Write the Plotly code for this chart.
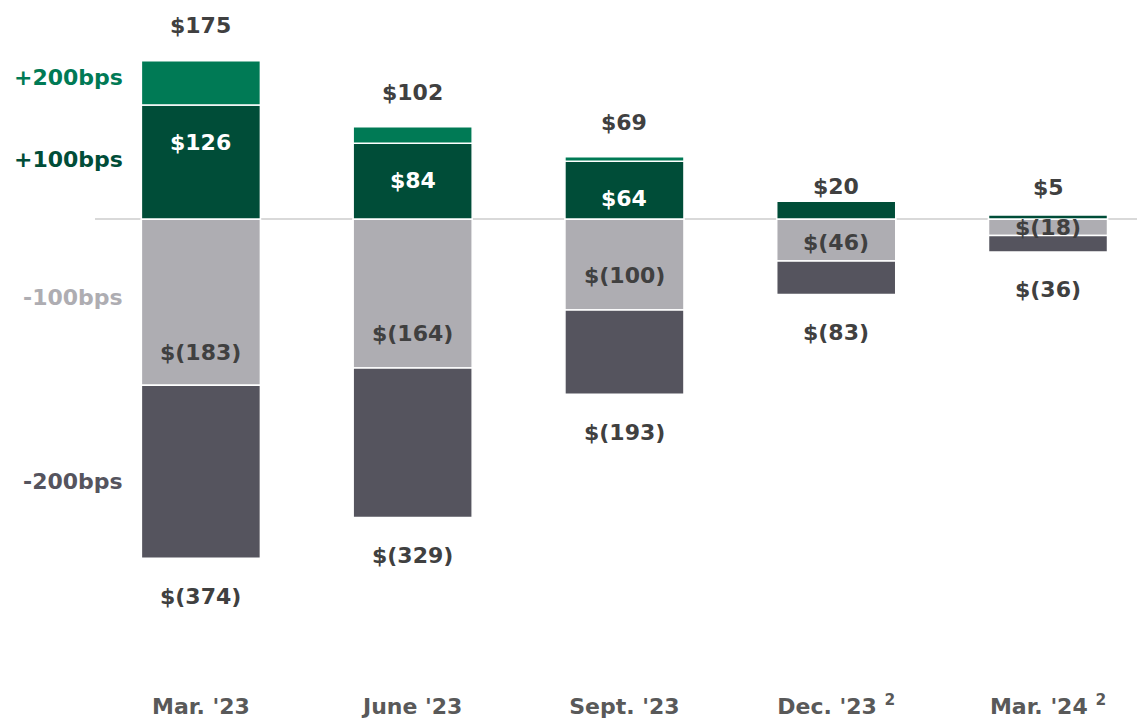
import plotly.graph_objects as go

categories = ["Mar. '23", "June '23", "Sept. '23", "Dec. '23", "Mar. '24"]
footnote = ["", "", "", "2", "2"]
up100 = [126, 84, 64, 20, 5]
up200_total = [175, 102, 69, 20, 5]
down100 = [-183, -164, -100, -46, -18]
down200_total = [-374, -329, -193, -83, -36]

up200_inc = [t - a for t, a in zip(up200_total, up100)]
down200_inc = [t - a for t, a in zip(down200_total, down100)]

C_UP200 = "#007A55"
C_UP100 = "#004D38"
C_DN100 = "#AEADB2"
C_DN200 = "#55545E"
TXT = "#404040"
CAT = "#595959"
FONT = "DejaVu Sans, Arial, sans-serif"

x = list(range(len(categories)))
W = 0.562

fig = go.Figure()
for name, vals, col in [
    ("+100bps", up100, C_UP100),
    ("+200bps", up200_inc, C_UP200),
    ("-100bps", down100, C_DN100),
    ("-200bps", down200_inc, C_DN200),
]:
    fig.add_trace(go.Bar(
        x=x, y=vals, name=name, width=W,
        marker=dict(color=col, line=dict(color="white", width=1.5)),
        hoverinfo="skip",
    ))

def money(v):
    return f"${v}" if v >= 0 else f"$({-v})"

# pixel offsets for labels (layout only)
top_shift = [35, 34, 34, 15, 27]
inner_show = [True, True, True, False, False]
dn100_shift = [33, 34, 34, 18, 8]

def f(col, size=22):
    return dict(color=col, size=size, family=FONT, weight="bold")

ann = []
for i in range(len(categories)):
    ann.append(dict(x=x[i], y=up200_total[i], text=money(up200_total[i]), showarrow=False,
                    yshift=top_shift[i], font=f(TXT)))
    if inner_show[i]:
        ann.append(dict(x=x[i], y=up100[i], text=money(up100[i]), showarrow=False,
                        yshift=-37, font=f("white")))
    ann.append(dict(x=x[i], y=down100[i], text=money(down100[i]), showarrow=False,
                    yshift=dn100_shift[i], font=f(TXT)))
    ann.append(dict(x=x[i], y=down200_total[i], text=money(down200_total[i]), showarrow=False,
                    yshift=-38, font=f(TXT)))

side_labels = [("+200bps", 156, C_UP200), ("+100bps", 66.5, C_UP100),
               ("-100bps", -86, C_DN100), ("-200bps", -289, C_DN200)]
for txt, yv, col in side_labels:
    ann.append(dict(xref="paper", x=0.0286, xanchor="right", y=yv, text=txt, showarrow=False,
                    font=f(col)))

ticktext = [c + (f" <sup>{n}</sup>" if n else "") for c, n in zip(categories, footnote)]

fig.update_layout(
    barmode="relative",
    width=1137, height=711,
    margin=dict(l=87, r=0, t=0, b=30),
    paper_bgcolor="white", plot_bgcolor="white",
    showlegend=False,
    annotations=ann,
    xaxis=dict(range=[-0.5, 4.458], tickvals=x, ticktext=ticktext, showgrid=False,
               zeroline=False, showline=False, ticks="outside", ticklen=2, tickcolor="white",
               tickfont=f(CAT, 22)),
    yaxis=dict(range=[-513.8, 233.1], showgrid=False, showticklabels=False,
               zeroline=True, zerolinecolor="#D9D9D9", zerolinewidth=2, showline=False),
)

fig.write_html("out.html")
